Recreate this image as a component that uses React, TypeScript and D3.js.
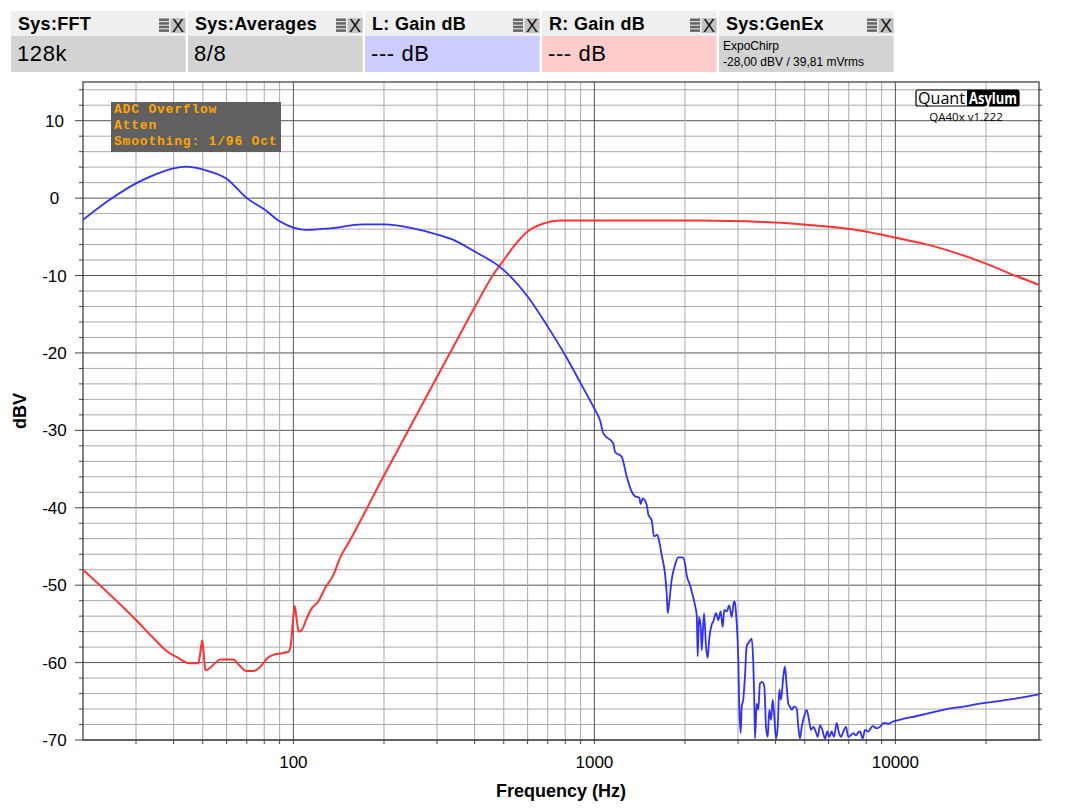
import React from 'react';
import * as d3 from 'd3';

// ---------- data ----------
const panelTitles = ['Sys:FFT', 'Sys:Averages', 'L: Gain dB', 'R: Gain dB', 'Sys:GenEx'];
const panelValues = ['128k', '8/8', '--- dB', '--- dB', ''];
const genExLines = ['ExpoChirp', '-28,00 dBV / 39,81 mVrms'];
const overlayLines = ['ADC Overflow', 'Atten', 'Smoothing: 1/96 Oct'];
const yTickValues = [-70, -60, -50, -40, -30, -20, -10, 0, 10];
const xTickValues = [100, 1000, 10000];
const logoLeft = 'Quant';
const logoRight = 'Asylum';
const versionText = 'QA40x v1.222';
const xTitle = 'Frequency (Hz)';
const yTitle = 'dBV';

const leftFreq = [20, 25, 30, 35, 40, 44, 50, 60, 70, 80, 90, 100, 110, 132, 170, 200, 250, 300, 340, 400, 500, 600, 700, 800, 900, 1000, 1044, 1071, 1156, 1171, 1232, 1281, 1330, 1364, 1410, 1425, 1447, 1492, 1511, 1550, 1578, 1618, 1643, 1673, 1716, 1739, 1752, 1774, 1806, 1853, 1900, 1965, 2000, 2026, 2078, 2122, 2159, 2188, 2204, 2226, 2256, 2273, 2313, 2349, 2379, 2408, 2453, 2483, 2535, 2580, 2627, 2668, 2701, 2751, 2806, 2858, 2909, 2932, 2954, 2984, 3007, 3029, 3062, 3086, 3123, 3164, 3206, 3270, 3331, 3372, 3398, 3417, 3461, 3504, 3549, 3613, 3669, 3717, 3766, 3811, 3862, 3912, 3961, 4012, 4065, 4115, 4168, 4243, 4297, 4354, 4407, 4465, 4524, 4604, 4700, 4758, 4821, 4884, 4971, 5074, 5164, 5244, 5337, 5436, 5520, 5617, 5718, 5837, 5941, 6032, 6144, 6253, 6383, 6495, 6596, 6714, 6854, 6975, 7104, 7248, 7398, 7530, 7628, 7788, 7925, 8128, 8405, 8667, 8889, 9164, 9471, 9842, 10304, 11770, 13032, 14810, 16810, 19105, 21710, 24650, 27315, 30000];
const leftDb = [-2.8, 0, 1.9, 3.1, 3.85, 4.06, 3.7, 2.5, 0, -1.45, -3.0, -3.8, -4.1, -3.9, -3.4, -3.4, -3.9, -4.7, -5.4, -6.9, -9.3, -12.7, -16.6, -20.3, -23.9, -27.2, -28.7, -30.4, -31.7, -32.8, -33.4, -36.0, -37.9, -38.5, -38.7, -39.5, -38.8, -39.6, -40.9, -41.6, -43.7, -43.5, -44.4, -46.1, -48.5, -51.1, -53.6, -52.1, -49.3, -47.4, -46.4, -46.4, -47.2, -48.7, -50.0, -51.3, -52.6, -53.9, -59.2, -54.1, -55.4, -58.4, -53.6, -57.9, -59.4, -56.9, -55.1, -54.7, -53.6, -54.5, -53.4, -55.4, -53.2, -53.4, -52.6, -54.1, -52.1, -52.3, -53.6, -56.2, -59.7, -65.7, -69.1, -65.7, -64.8, -61.8, -57.9, -57.3, -56.9, -60.1, -64.8, -69.8, -65.3, -66.1, -62.7, -62.5, -63.1, -68.3, -69.6, -66.1, -67.4, -64.8, -67.0, -69.8, -68.3, -63.5, -64.8, -61.8, -60.5, -63.1, -65.3, -65.7, -66.1, -65.7, -65.9, -68.3, -69.8, -68.3, -67.0, -66.1, -67.4, -68.7, -68.3, -68.9, -69.6, -68.1, -68.7, -69.8, -68.9, -69.6, -68.9, -69.6, -67.8, -69.1, -69.6, -68.9, -68.3, -69.6, -69.4, -69.1, -69.4, -69.0, -68.9, -69.8, -68.7, -68.9, -68.2, -68.5, -68.3, -67.8, -67.9, -67.6, -67.4, -66.9, -66.5, -66.0, -65.7, -65.3, -65.0, -64.7, -64.4, -64.1];

const rightFreq = [20, 30, 34.2, 37.9, 41, 45.4, 48.3, 49.2, 49.8, 50.4, 51, 55.6, 57, 63.1, 65.6, 70, 73.6, 79.4, 81.5, 85.8, 91.4, 96.2, 97.9, 99.5, 101, 102.6, 104.1, 106.6, 110.7, 115, 121, 127.4, 135.7, 142.8, 154.2, 199, 244, 299, 340, 399, 461, 502, 538, 600, 676, 769, 1000, 2243, 3641, 4943, 7067, 10000, 13366, 20110, 25290, 30000];
const rightDb = [-48.0, -54.5, -56.8, -58.5, -59.3, -60.1, -60.1, -58.4, -57.1, -59.0, -61.0, -59.9, -59.6, -59.6, -60.2, -61.1, -61.1, -60.1, -59.5, -59.0, -58.8, -58.6, -57.9, -54.9, -52.7, -54.5, -56.0, -55.8, -54.3, -53.0, -52.1, -50.4, -48.7, -46.5, -44.2, -36.0, -29.6, -23.2, -19.2, -14.2, -9.9, -7.9, -6.3, -4.3, -3.3, -2.9, -2.9, -2.9, -3.1, -3.4, -4.0, -5.1, -6.2, -8.5, -10.1, -11.2];

// ---------- layout / style ----------
const W = 1083;
const H = 812;
const PL = 83, PR = 1039, PT = 82, PB = 740;
const panelFills = ['#d3d3d3', '#d3d3d3', '#ccccff', '#ffcccc', '#d3d3d3'];
const sans = '"Liberation Sans", Arial, sans-serif';

export default function App() {
  const x = d3.scaleLog().domain([20, 30000]).range([PL, PR]);
  const y = d3.scaleLinear().domain([-70, 15]).range([PB, PT]);

  const minorX: number[] = [];
  [10, 100, 1000, 10000].forEach((dec) => {
    for (let m = 2; m <= 9; m++) {
      const f = m * dec;
      if (f > 20 && f < 30000) minorX.push(f);
    }
  });
  const yGrid = d3.range(-70, 15, 2);

  const line = d3
    .line<[number, number]>()
    .x((d) => x(d[0]))
    .y((d) => y(d[1]))
    .curve(d3.curveMonotoneX);
  const leftPts = leftFreq.map((f, i) => [f, leftDb[i]] as [number, number]);
  const rightPts = rightFreq.map((f, i) => [f, rightDb[i]] as [number, number]);

  return (
    <svg
      width={W}
      height={H}
      style={{ position: 'absolute', left: 0, top: 0, background: '#fff' }}
      fontFamily={sans}
    >
      <defs>
        <clipPath id="plotClip">
          <rect x={PL} y={PT} width={PR - PL} height={PB - PT} />
        </clipPath>
      </defs>
      <rect x={0} y={0} width={W} height={H} fill="#fff" />

      {/* header panels */}
      {panelTitles.map((t, i) => {
        const x0 = 11 + i * 177;
        const w = 174.6;
        return (
          <g key={t}>
            <rect x={x0} y={11} width={w} height={25} fill="#efefef" />
            <rect x={x0} y={36} width={w} height={36} fill={panelFills[i]} />
            <text x={x0 + 7} y={30} fontSize={18} letterSpacing={0.3} fontWeight="bold" fill="#000">
              {t}
            </text>
            {[0, 1, 2, 3].map((k) => (
              <rect key={k} x={x0 + 148} y={18.5 + k * 3.6} width={10} height={2.6} fill="#666" />
            ))}
            <rect x={x0 + 159.6} y={18} width={15} height={15} fill="#c2c2c2" />
            <text x={x0 + 167.1} y={32} fontSize={18} textAnchor="middle" fill="#111">
              X
            </text>
            {panelValues[i] ? (
              <text x={x0 + 6} y={61} fontSize={22} letterSpacing={0.6} fill="#000">
                {panelValues[i]}
              </text>
            ) : (
              genExLines.map((l, k) => (
                <text key={l} x={x0 + 4} y={50 + k * 15.5} fontSize={12} fill="#000">
                  {l}
                </text>
              ))
            )}
          </g>
        );
      })}

      {/* grid */}
      {yGrid.map((v) => (
        <line
          key={'h' + v}
          x1={PL}
          x2={PR}
          y1={y(v)}
          y2={y(v)}
          stroke={v % 10 === 0 ? '#555' : '#aaa'}
          strokeWidth={1}
        />
      ))}
      {minorX.map((f) => (
        <line key={'v' + f} x1={x(f)} x2={x(f)} y1={PT} y2={PB} stroke="#aaa" strokeWidth={1} />
      ))}
      {xTickValues.map((f) => (
        <line key={'V' + f} x1={x(f)} x2={x(f)} y1={PT} y2={PB} stroke="#555" strokeWidth={1} />
      ))}

      {/* ticks outside */}
      {yGrid.map((v) => (
        <g key={'t' + v}>
          <line x1={PL - (v % 10 === 0 ? 8 : 4)} x2={PL} y1={y(v)} y2={y(v)} stroke="#444" />
          <line x1={PR} x2={PR + 3} y1={y(v)} y2={y(v)} stroke="#444" />
        </g>
      ))}
      {[...minorX, ...xTickValues].map((f) => (
        <line key={'b' + f} x1={x(f)} x2={x(f)} y1={PB} y2={PB + 4} stroke="#444" />
      ))}

      {/* border */}
      <rect x={PL} y={PT} width={PR - PL} height={PB - PT} fill="none" stroke="#333" strokeWidth={1.2} />

      {/* curves */}
      <g clipPath="url(#plotClip)">
        <path d={line(rightPts) || ''} fill="none" stroke="#ff3333" strokeWidth={2} strokeLinejoin="round" />
        <path d={line(leftPts) || ''} fill="none" stroke="#2f2fff" strokeWidth={1.8} strokeLinejoin="round" />
      </g>

      {/* overlay box */}
      <rect x={111} y={102} width={170} height={50} fill="#606060" />
      {overlayLines.map((l, k) => (
        <text
          key={l}
          x={114}
          y={113 + k * 16}
          fontFamily='"Liberation Mono", "DejaVu Sans Mono", monospace'
          fontWeight="bold"
          fontSize={13}
          letterSpacing={0.8}
          fill="#ffa500"
        >
          {l}
        </text>
      ))}

      {/* logo */}
      <rect x={916} y={90} width={103} height={16} rx={2} fill="#fff" stroke="#000" strokeWidth={1.2} />
      <rect x={967} y={90} width={52} height={16} rx={1} fill="#000" />
      <text x={918} y={103.5} fontSize={16} fontFamily='"Open Sans", "Noto Sans", sans-serif' fill="#000" textLength={47} lengthAdjust="spacingAndGlyphs">
        {logoLeft}
      </text>
      <text x={969} y={103.5} fontSize={16} fontWeight="bold" fontFamily='"Open Sans", "Noto Sans", sans-serif' fill="#fff" textLength={48} lengthAdjust="spacingAndGlyphs">
        {logoRight}
      </text>
      <text x={966} y={121} fontSize={11.5} textAnchor="middle" fontFamily='"Open Sans", "Noto Sans", sans-serif' fill="#000">
        {versionText}
      </text>

      {/* axis labels */}
      {yTickValues.map((v) => (
        <text key={'yl' + v} x={54.5} y={y(v)} dy="0.36em" fontSize={17} textAnchor="middle" fill="#000">
          {v}
        </text>
      ))}
      {xTickValues.map((f) => (
        <text key={'xl' + f} x={x(f)} y={768} fontSize={17} textAnchor="middle" fill="#000">
          {f}
        </text>
      ))}
      <text x={(PL + PR) / 2} y={797} fontSize={18} fontWeight="bold" textAnchor="middle" fill="#000">
        {xTitle}
      </text>
      <text
        transform={`translate(26, ${(PT + PB) / 2}) rotate(-90)`}
        fontSize={18}
        fontWeight="bold"
        textAnchor="middle"
        fill="#000"
      >
        {yTitle}
      </text>
    </svg>
  );
}
